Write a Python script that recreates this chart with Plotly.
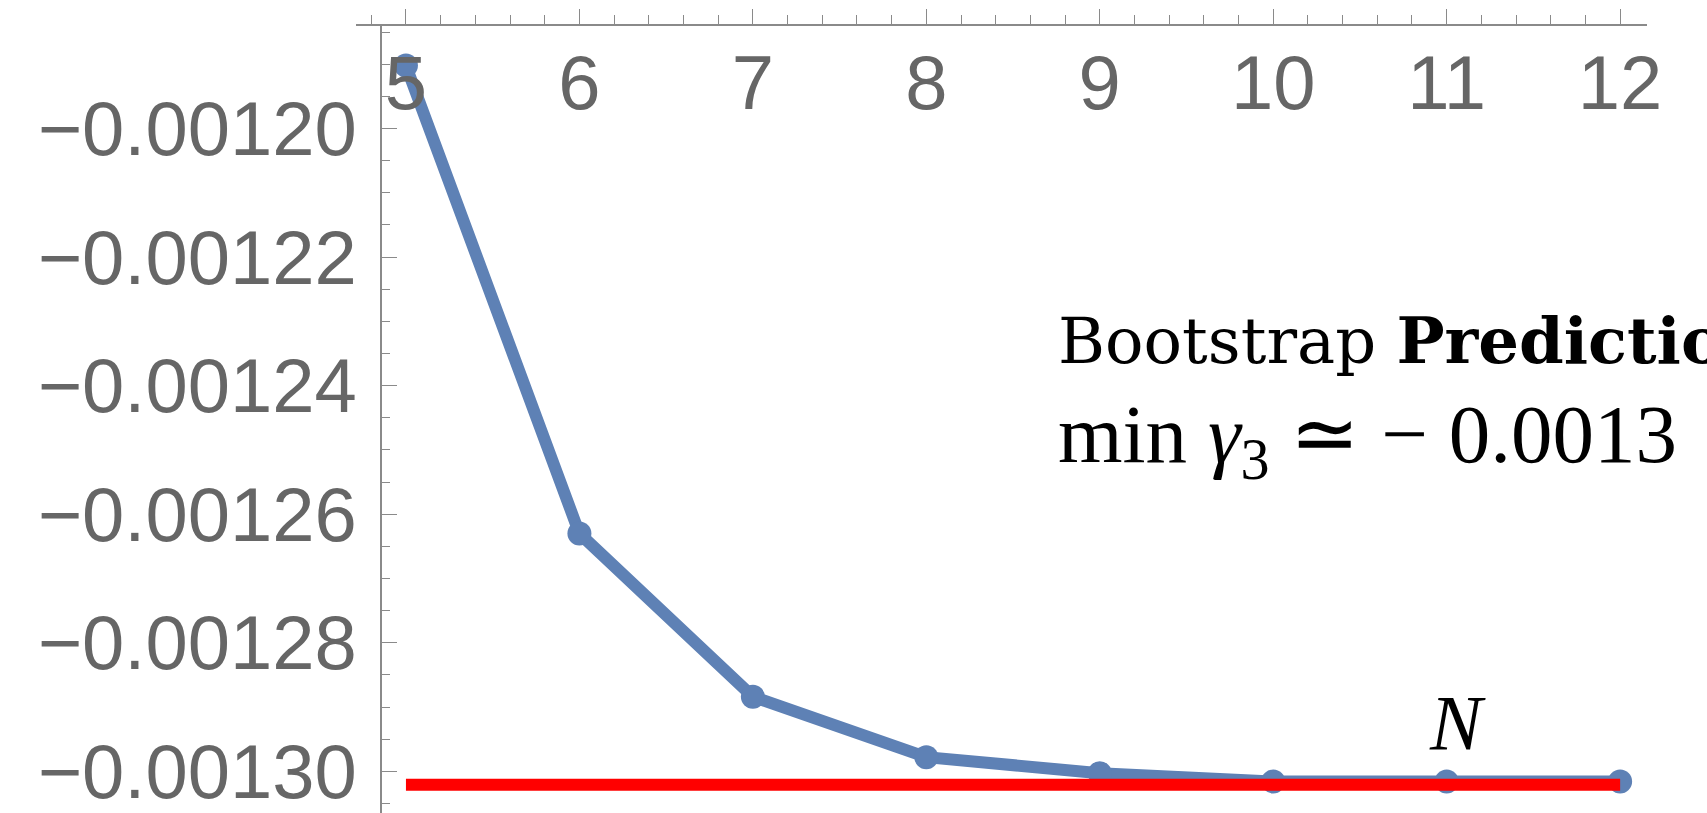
import plotly.graph_objects as go

# Truncation order N and the extremal gamma_3 found at each order
N_values = [5, 6, 7, 8, 9, 10, 11, 12]
gamma3_min = [-0.0011902, -0.0012630, -0.0012884, -0.0012978,
              -0.0013003, -0.0013016, -0.0013016, -0.0013016]

# Extrapolated bound drawn as a horizontal reference
bound_N = [5, 12]
bound_value = [-0.0013021, -0.0013021]

x_major_ticks = [5, 6, 7, 8, 9, 10, 11, 12]

W, H = 1707, 813
ML, MR, MT, MB = 356, 60, 26, 0
PW, PH = W - ML - MR, H - MT - MB


def px(x):
    return (x - ML) / PW


def py(y):
    return (H - MB - y) / PH


BLUE = "#5E81B5"
AXIS = "#8a8a8a"
TICKFONT = dict(family="Liberation Sans, Arial, sans-serif", size=76, color="#666666")

fig = go.Figure()
fig.add_trace(go.Scatter(
    x=N_values, y=gamma3_min, mode="lines+markers",
    line=dict(color=BLUE, width=12),
    marker=dict(color=BLUE, size=24),
    showlegend=False, hoverinfo="skip",
))
fig.add_trace(go.Scatter(
    x=bound_N, y=bound_value, mode="lines",
    line=dict(color="#FF0000", width=12),
    showlegend=False, hoverinfo="skip",
))

fig.update_layout(
    width=W, height=H,
    margin=dict(l=ML, r=MR, t=MT, b=MB, pad=0),
    paper_bgcolor="white", plot_bgcolor="white",
    xaxis=dict(
        range=[4.712, 12.155], side="top", anchor="y",
        showgrid=False, zeroline=False,
        showline=True, linecolor=AXIS, linewidth=1.5,
        tickmode="array", tickvals=x_major_ticks,
        ticktext=[str(v) for v in x_major_ticks],
        ticks="outside", ticklen=15, tickwidth=1.2, tickcolor=AXIS,
        ticklabelposition="inside", ticklabelstandoff=42,
        ticklabeloverflow="allow",
        minor=dict(dtick=0.2, tick0=5, ticks="outside", ticklen=9,
                   tickwidth=1.2, tickcolor=AXIS),
        tickfont=TICKFONT,
    ),
    yaxis=dict(
        range=[-0.00130649, -0.00118404],
        anchor="free", position=px(380.7),
        showgrid=False, zeroline=False,
        showline=True, linecolor=AXIS, linewidth=1.5,
        tick0=-0.0012, dtick=0.00002, tickformat=".5f",
        ticks="inside", ticklen=16, tickwidth=1.2, tickcolor=AXIS,
        ticklabelstandoff=8, ticklabeloverflow="allow",
        minor=dict(dtick=0.000005, ticks="inside", ticklen=9,
                   tickwidth=1.2, tickcolor=AXIS),
        tickfont=TICKFONT,
    ),
    annotations=[
        dict(text="Bootstrap <b>Prediction</b>", xref="paper", yref="paper",
             x=px(1056), y=py(341), xanchor="left", yanchor="middle",
             showarrow=False,
             font=dict(family="DejaVu Serif", size=64, color="black")),
        dict(text="min <i>γ</i><sub>3</sub> ≃ − 0.0013", xref="paper", yref="paper",
             x=px(1056), y=py(440), xanchor="left", yanchor="middle",
             showarrow=False,
             font=dict(family="Liberation Serif, Times New Roman, serif", size=83, color="black")),
        dict(text="<i>N</i>", xref="paper", yref="paper",
             x=px(1457), y=py(722), xanchor="center", yanchor="middle",
             showarrow=False,
             font=dict(family="Liberation Serif, Times New Roman, serif", size=78, color="black")),
    ],
)

fig.write_html("out.html")
